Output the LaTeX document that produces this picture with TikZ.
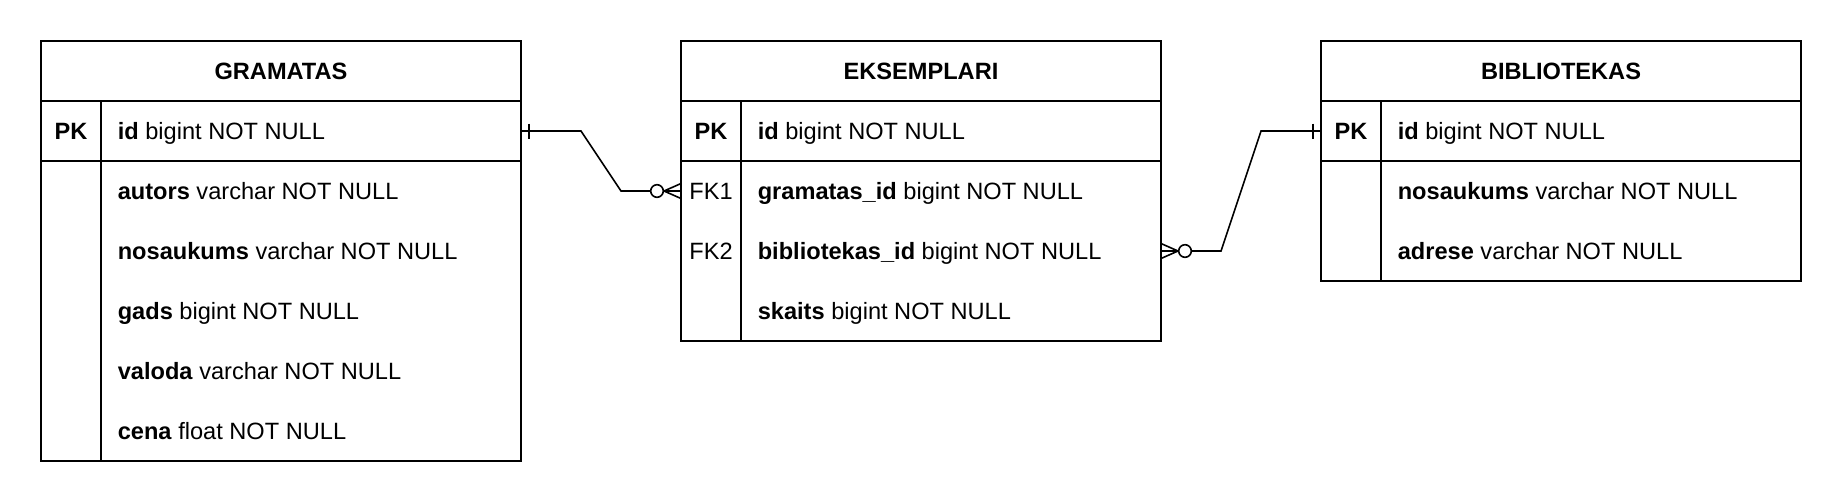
\documentclass[tikz,border=0pt]{standalone}
\usepackage{fontspec}
\setmainfont{Liberation Sans}
\tikzset{
  attr/.style={anchor=base west,inner sep=0pt},
  keycol/.style={anchor=base,inner sep=0pt},
  title/.style={anchor=base,inner sep=0pt},
}
\begin{document}
\begin{tikzpicture}[x=0.5pt,y=-0.5pt,line width=0.8pt,font=\fontsize{11.8}{14}\selectfont]
  \useasboundingbox (0,0) rectangle (1840,500);
  % GRAMATAS
  \draw (41,41) rectangle (521,461);
  \draw (41,101)--(521,101) (41,161)--(521,161) (101,101)--(101,461);
  \node[title] (gt) at (281,79.5) {\textbf{GRAMATAS}};
  \node[keycol] (gk) at (71,139.3) {\textbf{PK}};
  \node[attr] (g1) at (117,139.3) {\textbf{id} bigint NOT NULL};
  \node[attr] (g2) at (117,199.3) {\textbf{autors} varchar NOT NULL};
  \node[attr] (g3) at (117,259.3) {\textbf{nosaukums} varchar NOT NULL};
  \node[attr] (g4) at (117,319.3) {\textbf{gads} bigint NOT NULL};
  \node[attr] (g5) at (117,379.3) {\textbf{valoda} varchar NOT NULL};
  \node[attr] (g6) at (117,439.3) {\textbf{cena} float NOT NULL};
  % EKSEMPLARI
  \draw (681,41) rectangle (1161,341);
  \draw (681,101)--(1161,101) (681,161)--(1161,161) (741,101)--(741,341);
  \node[title] (et) at (921,79.5) {\textbf{EKSEMPLARI}};
  \node[keycol] (ek) at (711,139.3) {\textbf{PK}};
  \node[keycol] (ek1) at (711,199.3) {FK1};
  \node[keycol] (ek2) at (711,259.3) {FK2};
  \node[attr] (e1) at (757,139.3) {\textbf{id} bigint NOT NULL};
  \node[attr] (e2) at (757,199.3) {\textbf{gramatas\_id} bigint NOT NULL};
  \node[attr] (e3) at (757,259.3) {\textbf{bibliotekas\_id} bigint NOT NULL};
  \node[attr] (e4) at (757,319.3) {\textbf{skaits} bigint NOT NULL};
  % BIBLIOTEKAS
  \draw (1321,41) rectangle (1801,281);
  \draw (1321,101)--(1801,101) (1321,161)--(1801,161) (1381,101)--(1381,281);
  \node[title] (bt) at (1561,79.5) {\textbf{BIBLIOTEKAS}};
  \node[keycol] (bk) at (1351,139.3) {\textbf{PK}};
  \node[attr] (b1) at (1397,139.3) {\textbf{id} bigint NOT NULL};
  \node[attr] (b2) at (1397,199.3) {\textbf{nosaukums} varchar NOT NULL};
  \node[attr] (b3) at (1397,259.3) {\textbf{adrese} varchar NOT NULL};
  % connector ends
  \coordinate (gpk) at (521,131);
  \coordinate (efk1) at (681,191);
  \coordinate (efk2) at (1161,251);
  \coordinate (bpk) at (1321,131);
  % gramatas -- eksemplari
  \draw (gpk) -- ++(60,0) -- ++(40,60) -- (efk1);
  \draw (gpk) ++(8,-7.5) -- ++(0,15);
  \draw (efk1) ++(0,-7.5) -- ++(-17,7.5) -- ++(17,7.5);
  \draw[fill=white] (efk1) ++(-24,0) circle[radius=6.3];
  % eksemplari -- bibliotekas
  \draw (efk2) -- ++(60,0) -- ++(40,-120) -- (bpk);
  \draw (bpk) ++(-8,-7.5) -- ++(0,15);
  \draw (efk2) ++(0,-7.5) -- ++(17,7.5) -- ++(-17,7.5);
  \draw[fill=white] (efk2) ++(24,0) circle[radius=6.3];
\end{tikzpicture}
\end{document}
